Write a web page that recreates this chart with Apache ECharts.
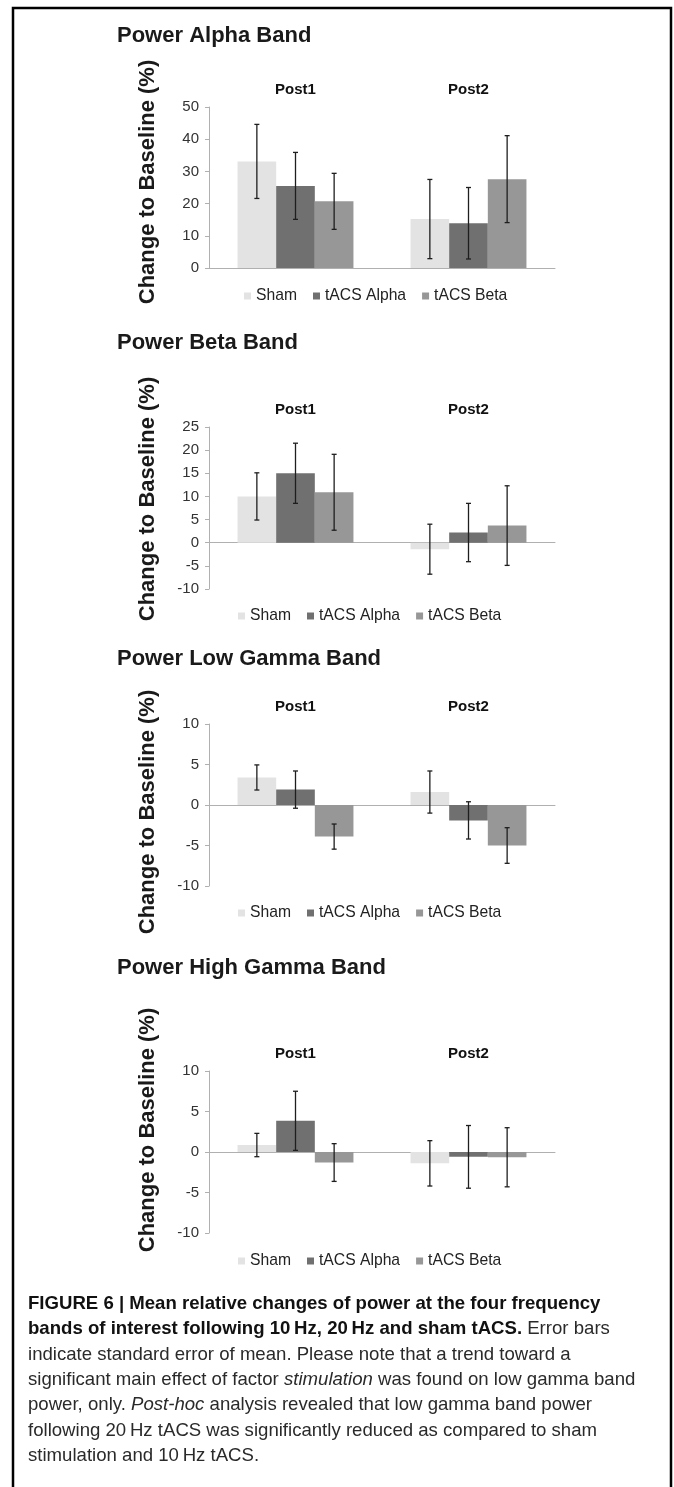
<!DOCTYPE html>
<html>
<head>
<meta charset="utf-8">
<title>Figure 6</title>
<script src="https://cdn.jsdelivr.net/npm/echarts@6/dist/echarts.min.js"></script>
<style>
html, body { margin: 0; padding: 0; background: #fff; }
#fig { width: 674px; height: 1487px; }
</style>
</head>
<body>
<div id="fig"></div>
<script>
var categories = ['Post1', 'Post2'];
var groups = ['Sham', 'tACS Alpha', 'tACS Beta'];
var panelTitles = ['Power Alpha Band', 'Power Beta Band', 'Power Low Gamma Band', 'Power High Gamma Band'];

// rows: Sham, tACS Alpha, tACS Beta / cols: Post1, Post2
var alphaMean = [[33.1, 15.2], [25.5, 13.9], [20.7, 27.6]];
var alphaSem = [[11.5, 12.3], [10.4, 11.1], [8.7, 13.5]];
var betaMean = [[10.0, -1.4], [15.0, 2.2], [10.9, 3.7]];
var betaSem = [[5.1, 5.4], [6.5, 6.3], [8.2, 8.6]];
var lowGammaMean = [[3.4, 1.6], [1.9, -1.9], [-3.9, -5.0]];
var lowGammaSem = [[1.55, 2.6], [2.3, 2.3], [1.55, 2.2]];
var highGammaMean = [[0.86, -1.4], [3.85, -0.6], [-1.3, -0.65]];
var highGammaSem = [[1.44, 2.8], [3.65, 3.87], [2.33, 3.65]];

// y axis: min, max, step
var alphaAxis = [0, 50, 10];
var betaAxis = [-10, 25, 5];
var lowGammaAxis = [-10, 10, 5];
var highGammaAxis = [-10, 10, 5];

var panels = [
    {mean: alphaMean, sem: alphaSem, axis: alphaAxis},
    {mean: betaMean, sem: betaSem, axis: betaAxis},
    {mean: lowGammaMean, sem: lowGammaSem, axis: lowGammaAxis},
    {mean: highGammaMean, sem: highGammaSem, axis: highGammaAxis}
];

// layout
var gridTops = [107, 427, 724, 1071];
var gridHeights = [161, 162, 162, 162];
var titleY = [36, 343, 659, 968];
var nameY = [182, 499, 812, 1130];
var legendY = [295, 615, 912, 1260];
var legendLeft = [239, 233, 233, 233];
var barColors = ['#e3e3e3', '#707070', '#979797'];
var font = "'Liberation Sans', Arial, sans-serif";
var axisGray = '#b0b0b0';

var myChart = echarts.init(document.getElementById('fig'));

var grid = [], xAxis = [], yAxis = [], series = [], legend = [], graphic = [];

panels.forEach(function (p, i) {
    grid.push({left: 209, right: 119, top: gridTops[i], height: gridHeights[i]});
    xAxis.push({
        type: 'category', gridIndex: i, data: categories,
        axisLine: {onZero: true, lineStyle: {color: axisGray, width: 1}},
        axisTick: {length: 4, lineStyle: {color: axisGray}},
        axisLabel: {show: false},
        splitLine: {show: false}
    });
    xAxis.push({
        type: 'category', gridIndex: i, data: categories, position: 'top',
        axisLine: {show: false, onZero: false},
        axisTick: {show: false},
        axisLabel: {fontSize: 15, fontWeight: 'bold', color: '#111', margin: 10, fontFamily: font}
    });
    yAxis.push({
        type: 'value', gridIndex: i,
        min: p.axis[0], max: p.axis[1], interval: p.axis[2],
        axisLine: {show: true, lineStyle: {color: axisGray, width: 1}},
        axisTick: {show: true, length: 4, lineStyle: {color: axisGray}},
        splitLine: {show: false},
        axisLabel: {fontSize: 15, color: '#333', margin: 10, fontFamily: font}
    });

    groups.forEach(function (g, k) {
        series.push({
            type: 'bar', name: g,
            xAxisIndex: i * 2, yAxisIndex: i,
            data: p.mean[k],
            barGap: '0%', barCategoryGap: '33%',
            itemStyle: {color: barColors[k]},
            silent: true
        });
    });

    var errData = [];
    groups.forEach(function (g, k) {
        categories.forEach(function (c, j) {
            errData.push([j, k, p.mean[k][j] - p.sem[k][j], p.mean[k][j] + p.sem[k][j]]);
        });
    });
    series.push({
        type: 'custom',
        xAxisIndex: i * 2, yAxisIndex: i,
        data: errData,
        encode: {x: 0, y: [2, 3]},
        z: 5, silent: true,
        renderItem: function (params, api) {
            var cat = api.value(0), k = api.value(1);
            var barW = api.size([1, 0])[0] * 0.67 / 3;
            var x = api.coord([cat, 0])[0] + (k - 1) * barW;
            var yLo = api.coord([cat, api.value(2)])[1];
            var yHi = api.coord([cat, api.value(3)])[1];
            var st = {stroke: '#1e1e1e', lineWidth: 1.3};
            return {
                type: 'group',
                children: [
                    {type: 'line', shape: {x1: x, y1: yLo, x2: x, y2: yHi}, style: st},
                    {type: 'line', shape: {x1: x - 2.5, y1: yLo, x2: x + 2.5, y2: yLo}, style: st},
                    {type: 'line', shape: {x1: x - 2.5, y1: yHi, x2: x + 2.5, y2: yHi}, style: st}
                ]
            };
        }
    });

    legend.push({
        data: groups, left: legendLeft[i], top: legendY[i] - 12,
        icon: 'rect', itemWidth: 7, itemHeight: 7, itemGap: 16,
        selectedMode: false,
        textStyle: {fontSize: 15.7, color: '#222', fontFamily: font}
    });

    graphic.push({
        type: 'text', x: 117, y: titleY[i],
        style: {text: panelTitles[i], fontSize: 22, fontWeight: 'bold', fill: '#1a1a1a',
            fontFamily: font, align: 'left', verticalAlign: 'middle'}
    });
    graphic.push({
        type: 'text', x: 148, y: nameY[i], rotation: Math.PI / 2,
        style: {text: 'Change to Baseline (%)', fontSize: 22, fontWeight: 'bold', fill: '#1a1a1a',
            fontFamily: font, align: 'center', verticalAlign: 'middle'}
    });
});

// frame
graphic.push({
    type: 'polyline',
    shape: {points: [[13, 1487], [13, 8], [671, 8], [671, 1487]]},
    style: {stroke: '#000', lineWidth: 2.5, fill: null}
});

// caption
var capFont = {fontSize: 18.6, fontFamily: font, lineHeight: 25.4};
var captionLines = [
    '{b|FIGURE 6 | Mean relative changes of power at the four frequency}',
    '{b|bands of interest following 10\u2009Hz, 20\u2009Hz and sham tACS.}{n| Error bars}',
    '{n|indicate standard error of mean. Please note that a trend toward a}',
    '{n|significant main effect of factor }{i|stimulation}{n| was found on low gamma band}',
    '{n|power, only. }{i|Post-hoc}{n| analysis revealed that low gamma band power}',
    '{n|following 20\u2009Hz tACS was significantly reduced as compared to sham}',
    '{n|stimulation and 10\u2009Hz tACS.}'
];
graphic.push({
    type: 'text', x: 28, y: 1291,
    style: {
        text: captionLines.join('\n'),
        fontSize: 18.6, fontFamily: font, lineHeight: 25.4, fill: '#222',
        align: 'left', verticalAlign: 'top',
        rich: {
            b: Object.assign({fontWeight: 'bold', fill: '#111'}, capFont),
            n: Object.assign({fontWeight: 'normal', fill: '#2a2a2a'}, capFont),
            i: Object.assign({fontStyle: 'italic', fill: '#2a2a2a'}, capFont)
        }
    }
});

var option = {
    animation: false,
    backgroundColor: '#fff',
    grid: grid,
    xAxis: xAxis,
    yAxis: yAxis,
    legend: legend,
    series: series,
    graphic: graphic
};

myChart.setOption(option);
</script>
</body>
</html>
